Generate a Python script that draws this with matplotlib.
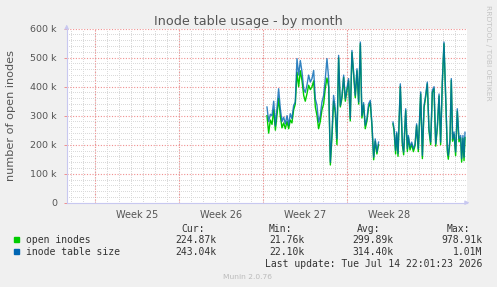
import numpy as np
import matplotlib.pyplot as plt
from matplotlib.patches import Rectangle

# Munin "inode table usage - by month"; x in days from left edge of graph
W, H = 497, 287

# first stretch of samples (days, thousands)
t1 = [16.69, 16.83, 16.97, 17.11, 17.25, 17.39, 17.52, 17.66, 17.80, 17.94,
      18.08, 18.22, 18.36, 18.50, 18.63, 18.77, 18.91, 19.05, 19.19, 19.33,
      19.47, 19.61, 19.75, 19.88, 20.02, 20.16, 20.30, 20.44, 20.58, 20.72,
      20.86, 20.99, 21.13, 21.27, 21.41, 21.55, 21.69, 21.83, 21.97, 22.11,
      22.24, 22.38, 22.52, 22.66, 22.80, 22.94, 23.08, 23.22, 23.35, 23.49,
      23.63, 23.77, 23.91, 24.05, 24.19, 24.33, 24.47, 24.60, 24.74, 24.88,
      25.02, 25.16, 25.30, 25.44, 25.58, 25.71, 25.85, 25.99]
size1 = [330, 280, 305, 300, 350, 265, 325, 393, 325, 280,
         295, 272, 300, 267, 307, 290, 335, 347, 497, 440,
         490, 450, 393, 380, 405, 440, 416, 428, 456, 358,
         335, 278, 300, 347, 370, 428, 497, 428, 140, 244,
         370, 324, 220, 508, 335, 370, 440, 358, 393, 428,
         290, 525, 450, 370, 462, 347, 554, 300, 345, 267,
         290, 341, 353, 270, 157, 220, 175, 209]
open1 = [300, 240, 285, 270, 320, 250, 300, 360, 300, 258,
         275, 255, 280, 255, 285, 275, 320, 340, 450, 400,
         455, 420, 370, 350, 375, 405, 390, 400, 420, 330,
         300, 255, 280, 320, 340, 395, 430, 400, 130, 230,
         350, 310, 200, 500, 330, 360, 432, 350, 385, 420,
         282, 518, 442, 362, 455, 340, 548, 292, 338, 255,
         282, 330, 345, 262, 148, 212, 168, 200]

# second stretch after the gap
t2 = [27.19, 27.28, 27.41, 27.50, 27.61, 27.80, 27.97, 28.08, 28.25, 28.39,
      28.47, 28.61, 28.75, 28.89, 29.03, 29.16, 29.30, 29.50, 29.64, 29.78,
      29.91, 30.05, 30.19, 30.33, 30.47, 30.61, 30.75, 30.89, 31.03, 31.16,
      31.30, 31.44, 31.58, 31.72, 31.80, 31.94, 32.05, 32.16, 32.28, 32.41,
      32.55, 32.69, 32.83, 32.91, 33.02, 33.11, 33.19]
size2 = [278, 255, 180, 244, 170, 410, 209, 175, 324, 186,
         232, 192, 209, 186, 203, 272, 186, 382, 163, 335,
         370, 416, 255, 209, 387, 400, 203, 267, 375, 209,
         416, 554, 370, 186, 163, 220, 428, 220, 244, 175,
         324, 220, 232, 152, 232, 157, 243]
open2 = [272, 248, 168, 238, 160, 402, 200, 165, 318, 176,
         226, 182, 202, 176, 197, 266, 176, 375, 152, 328,
         363, 410, 248, 200, 380, 393, 195, 260, 368, 200,
         410, 548, 362, 175, 150, 212, 422, 212, 236, 162,
         316, 210, 224, 140, 222, 145, 225]

week_starts = [2.333, 9.333, 16.333, 23.333]
week_labels = ['Week 25', 'Week 26', 'Week 27', 'Week 28']
yticks = [0, 100, 200, 300, 400, 500, 600]
ytick_labels = ['0', '100 k', '200 k', '300 k', '400 k', '500 k', '600 k']

legend_names = ['open inodes', 'inode table size']
colors = ['#00CC00', '#0066B3']
cur = ['224.87k', '243.04k']
mins = ['21.76k', '22.10k']
avgs = ['299.89k', '314.40k']
maxs = ['978.91k', '1.01M']


def fx(x):
    return x / W


def fy(y):
    return 1 - y / H


fig = plt.figure(figsize=(W / 100, H / 100), dpi=100, facecolor='#F0F0F0')
left, right, top, bottom = 66.7, 467, 28.7, 202.7
ax = fig.add_axes([fx(left), fy(bottom), (right - left) / W, (bottom - top) / H])
ax.set_facecolor('white')
xmax = (right - left) / 12
ax.set_xlim(0, xmax)
ax.set_ylim(0, 600)

# grid: minor gray dots, major red dots
minor_c, major_c = '#DADADA', '#F09090'
dot = (0, (1, 2))
for v in np.arange(20, 601, 20):
    if v % 100:
        ax.axhline(v, color=minor_c, lw=0.72, ls=dot, antialiased=False,
                   zorder=1)
for d in np.arange(0.333, xmax, 1.0):
    ax.axvline(d, color=minor_c, lw=0.72, ls=dot, antialiased=False,
               zorder=1)
for v in yticks[1:]:
    ax.axhline(v, color=major_c, lw=0.8, ls=(0, (1, 1.5)), zorder=2)
for d in week_starts:
    ax.axvline(d, color=major_c, lw=0.8, ls=(0, (1, 1.5)), zorder=2)

# data
ax.plot(t1, open1, color=colors[0], lw=1.0, zorder=3)
ax.plot(t2, open2, color=colors[0], lw=1.0, zorder=3)
ax.plot(t1, size1, color=colors[1], lw=1.0, alpha=0.8, zorder=4)
ax.plot(t2, size2, color=colors[1], lw=1.0, alpha=0.8, zorder=4)

# axes
for s in ['top', 'right']:
    ax.spines[s].set_visible(False)
for s in ['left', 'bottom']:
    ax.spines[s].set_color('#C8C8F0')
    ax.spines[s].set_linewidth(0.8)
ax.set_yticks(yticks)
ax.set_yticklabels(ytick_labels, fontsize=6.8, color='#555555')
ax.set_xticks([w + 3.5 for w in week_starts])
ax.set_xticklabels(week_labels, fontsize=7, color='#555555')
ax.tick_params(axis='y', length=2, width=0.7, color=major_c, pad=5)
ax.tick_params(axis='x', length=0, pad=5)
ax.annotate('', xy=(1.013, 0), xytext=(0.99, 0), xycoords='axes fraction',
            arrowprops=dict(arrowstyle='-|>', color='#C8C8F0', lw=0.8,
                            mutation_scale=6), annotation_clip=False)
ax.annotate('', xy=(0, 1.04), xytext=(0, 0.99), xycoords='axes fraction',
            arrowprops=dict(arrowstyle='-|>', color='#C8C8F0', lw=0.8,
                            mutation_scale=6), annotation_clip=False)

# titles
fig.text(fx(248), fy(24.5), 'Inode table usage - by month', ha='center',
         va='baseline', fontsize=9.2, color='#555555')
fig.text(fx(11.5), fy(115.7), 'number of open inodes', rotation=90,
         ha='center', va='center', fontsize=8.1, color='#555555')
fig.text(fx(488), fy(5), 'RRDTOOL / TOBI OETIKER', rotation=270,
         ha='center', va='top', fontsize=5.4, color='#C4C4C4')

# legend block
mono = 'DejaVu Sans Mono'
lc = '#333333'
for hx, h in zip([181, 269, 357, 447], ['Cur:', 'Min:', 'Avg:', 'Max:']):
    fig.text(fx(hx), fy(228.5), h, ha='left', va='center', family=mono,
             fontsize=7, color=lc)
for i, name in enumerate(legend_names):
    yy = 239.7 + 12 * i
    fig.patches.append(Rectangle((fx(14), fy(yy + 2.3)), 5 / W, 4.6 / H,
                                 transform=fig.transFigure, color=colors[i]))
    fig.text(fx(26), fy(yy), name, ha='left', va='center', family=mono,
             fontsize=7, color=lc)
    for vx, col in zip([216.7, 305, 393, 482.3], [cur, mins, avgs, maxs]):
        fig.text(fx(vx), fy(yy), col[i], ha='right', va='center',
                 family=mono, fontsize=7, color=lc)
fig.text(fx(482.3), fy(263.7), 'Last update: Tue Jul 14 22:01:23 2026',
         ha='right', va='center', family=mono, fontsize=7, color=lc)
fig.text(fx(247.7), fy(276.7), 'Munin 2.0.76', ha='center', va='center',
         fontsize=5.4, color='#BBBBBB')

fig.savefig('out.png', dpi=100, facecolor=fig.get_facecolor())
